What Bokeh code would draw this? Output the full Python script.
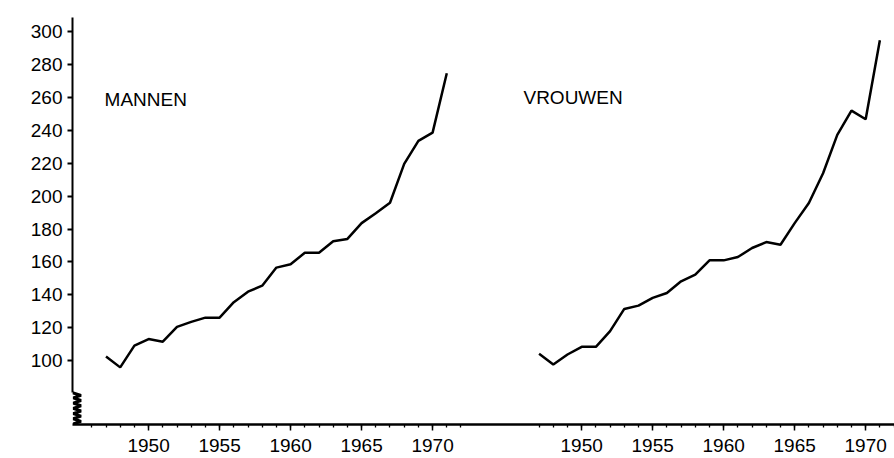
from bokeh.plotting import figure
from bokeh.models import FixedTicker, Label, Range1d
from bokeh.embed import file_html
from bokeh.resources import INLINE
import numpy as np

# ---- data (index, 1947..1971) ----
years = list(range(1947, 1972))
mannen = [102.6, 96.0, 109.2, 113.2, 111.6, 120.6, 123.6, 126.2, 126.2, 135.6,
          142.0, 145.6, 156.6, 158.6, 165.6, 165.6, 172.6, 174.0, 183.6, 189.6,
          196.0, 219.6, 233.6, 238.6, 274.6]
vrouwen = [104.2, 97.8, 103.8, 108.5, 108.5, 118.0, 131.5, 133.5, 138.2, 141.2,
           148.3, 152.3, 161.0, 161.0, 163.0, 168.5, 172.1, 170.5, 183.6, 195.8,
           213.9, 237.2, 251.9, 246.7, 294.7]
tick_years = [1950, 1955, 1960, 1965, 1970]
y_ticks = [100, 120, 140, 160, 180, 200, 220, 240, 260, 280, 300]
panel_offset = 30.5  # horizontal shift of the second panel (years)

FONT = "Liberation Sans"
X0, X1 = 1944.64, 2002.53
Y0, Y1 = 61.3, 308.5

p = figure(width=894, height=458, output_backend="svg", toolbar_location=None,
           x_range=Range1d(X0, X1), y_range=Range1d(Y0, Y1),
           min_border_left=72, min_border_top=17, min_border_bottom=34,
           min_border_right=0)
p.grid.visible = False
p.outline_line_color = None
p.background_fill_color = "white"

# series
p.line(years, mannen, line_color="black", line_width=2.5)
p.line([y + panel_offset for y in years], vrouwen, line_color="black", line_width=2.5)

# labels
p.add_layout(Label(x=1946.9, y=258.5, text="MANNEN", text_baseline="middle",
                   text_font=FONT, text_font_size="19px", text_color="black"))
p.add_layout(Label(x=1976.4, y=259.7, text="VROUWEN", text_baseline="middle",
                   text_font=FONT, text_font_size="19px", text_color="black"))

# x axis
major = tick_years + [t + panel_offset for t in tick_years]
minor = list(range(1946, 1973)) + [y + panel_offset for y in range(1947, 1973)]
p.xaxis.ticker = FixedTicker(ticks=major, minor_ticks=minor)
overrides = {}
for t in tick_years:
    overrides[t] = str(t)
    overrides[t + panel_offset] = str(t)
p.xaxis.major_label_overrides = overrides
p.xaxis.axis_line_width = 2.5
p.xaxis.major_tick_line_width = 1.5
p.xaxis.minor_tick_line_width = 1.3
p.xaxis.major_tick_in = 0
p.xaxis.major_tick_out = 6
p.xaxis.minor_tick_in = 0
p.xaxis.minor_tick_out = 3
p.xaxis.major_label_standoff = 8
p.xaxis.major_label_text_font = FONT
p.xaxis.major_label_text_font_size = "19px"
p.xaxis.major_label_text_color = "black"

# y axis
p.yaxis.ticker = FixedTicker(ticks=y_ticks)
p.yaxis.bounds = (80.6, Y1)
p.yaxis.axis_line_width = 2
p.yaxis.major_tick_line_width = 2
p.yaxis.major_tick_in = 0
p.yaxis.major_tick_out = 5
p.yaxis.minor_tick_out = 0
p.yaxis.major_label_standoff = 5
p.yaxis.major_label_text_font = FONT
p.yaxis.major_label_text_font_size = "19px"
p.yaxis.major_label_text_color = "black"

# broken-axis zigzag at the bottom of the y axis (kept inside the frame)
zz_y = np.linspace(Y0 + 0.3, 80.6, 13)
zz_x = [X0 + (0.6 if i % 2 else 0.05) for i in range(len(zz_y))]
zz_x[-1] = X0
p.line(zz_x, zz_y, line_color="black", line_width=3)

open("out.html", "w").write(file_html(p, INLINE))
